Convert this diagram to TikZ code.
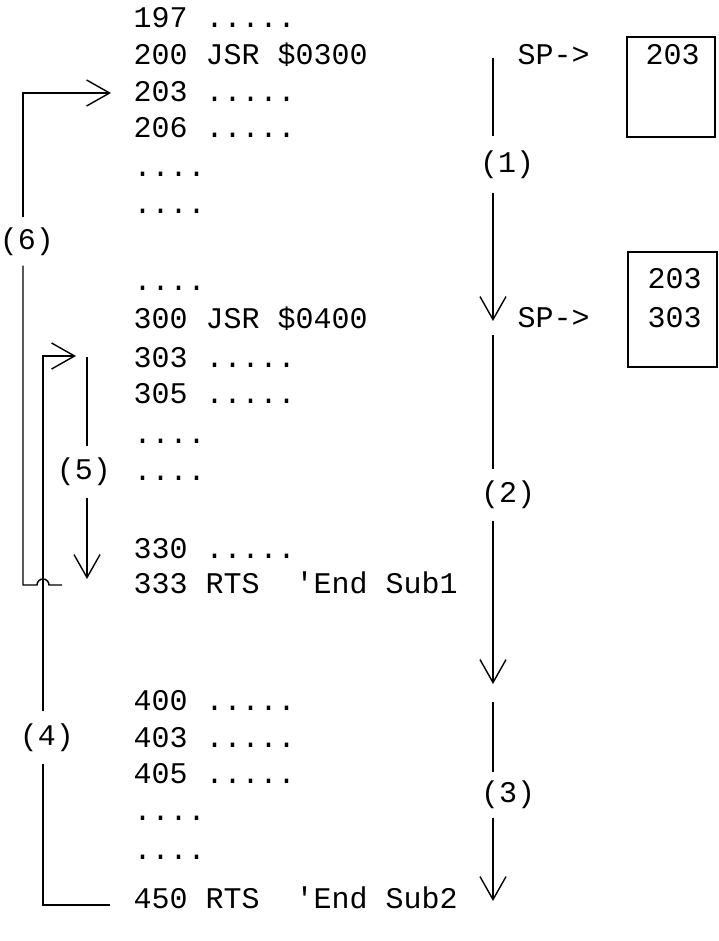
\documentclass[tikz,border=0pt]{standalone}
\usepackage{fontspec}
\usetikzlibrary{arrows.meta}
\newfontfamily\plotter{Liberation Mono}

\begin{document}
\begin{tikzpicture}[x=1pt,y=-1pt,line width=1.4pt,
		flow/.style={-{Straight Barb[length=23pt,width=26pt,line width=1.4pt]}},
		code/.style={anchor=base west,inner sep=0pt,font=\plotter\fontsize{30}{36}\selectfont},
		steplabel/.style={inner sep=0pt,font=\plotter\fontsize{30}{36}\selectfont},
		stackbox/.style={draw,inner sep=0pt}]
			%%%%% START %%%%%
			\useasboundingbox (0,0) rectangle (719,941);
			
			% program listing
			\node[code] (l197) at (133,28) {197 .....};
			\node[code] (l200) at (133,65) {200 JSR \$0300};
			\node[code] (l203) at (133,102) {203 .....};
			\node[code] (l206) at (133,138) {206 .....};
			\node[code] (d1) at (133,177) {....};
			\node[code] (d2) at (133,214) {....};
			\node[code] (d3) at (133,290) {....};
			\node[code] (l300) at (133,328) {300 JSR \$0400};
			\node[code] (l303) at (133,367) {303 .....};
			\node[code] (l305) at (133,403) {305 .....};
			\node[code] (d4) at (133,443) {....};
			\node[code] (d5) at (133,480) {....};
			\node[code] (l330) at (133,558) {330 .....};
			\node[code] (l333) at (133,593) {333 RTS\ \ 'End Sub1};
			\node[code] (l400) at (133,710) {400 .....};
			\node[code] (l403) at (133,747) {403 .....};
			\node[code] (l405) at (133,783) {405 .....};
			\node[code] (d6) at (133,820) {....};
			\node[code] (d7) at (133,859) {....};
			\node[code] (l450) at (133,908) {450 RTS\ \ 'End Sub2};
			
			% stack pointer and stack
			\node[code] (sp1) at (517,65) {SP->};
			\node[code] (sp2) at (517,327) {SP->};
			\node[stackbox,minimum width=88pt,minimum height=100pt] (stk1) at (671,87) {};
			\node[stackbox,minimum width=89pt,minimum height=115pt] (stk2) at (672.5,309.5) {};
			\node[code] (v1) at (645,65) {203};
			\node[code] (v2) at (647,288) {203};
			\node[code] (v3) at (647,327) {303};
			
			% calls (1) (2) (3)
			\coordinate (a1) at (493,58);
			\coordinate (b1) at (493,321);
			\node[steplabel,minimum height=55pt] (s1) at (507,164.5) {(1)};
			\draw (a1) -- (a1 |- s1.north);
			\draw[flow] (a1 |- s1.south) -- (b1);
			
			\coordinate (a2) at (493,335);
			\coordinate (b2) at (493,684);
			\node[steplabel,minimum height=50pt] (s2) at (508,495) {(2)};
			\draw (a2) -- (a2 |- s2.north);
			\draw[flow] (a2 |- s2.south) -- (b2);
			
			\coordinate (a3) at (493,702);
			\coordinate (b3) at (493,901);
			\node[steplabel,minimum height=44pt] (s3) at (508,795) {(3)};
			\draw (a3) -- (a3 |- s3.north);
			\draw[flow] (a3 |- s3.south) -- (b3);
			
			% return from Sub2 (4)
			\coordinate (r4) at (110,905);
			\coordinate (c4) at (43,356);
			\coordinate (t4) at (76,356);
			\node[steplabel,minimum height=51pt] (s4) at (47,737.5) {(4)};
			\draw (r4) -| (c4 |- s4.south);
			\draw[flow] (c4 |- s4.north) -- (c4) -- (t4);
			
			% Sub1 body (5)
			\coordinate (a5) at (87,357);
			\coordinate (b5) at (87,579);
			\node[steplabel,minimum height=50pt] (s5) at (84,472) {(5)};
			\draw (a5) -- (a5 |- s5.north);
			\draw[flow] (a5 |- s5.south) -- (b5);
			
			% return from Sub1 (6), hopping over (4)
			\coordinate (r6) at (62,585);
			\coordinate (c6) at (23,93);
			\coordinate (t6) at (111,93);
			\node[steplabel,minimum height=47pt] (s6) at (27,241.5) {(6)};
			\draw (r6) -- ++(-13,0) arc (0:-180:6) -| (c6 |- s6.south);
			\draw[flow] (c6 |- s6.north) -- (c6) -- (t6);
			
			%%%%% END %%%%%
\end{tikzpicture}
\end{document}
